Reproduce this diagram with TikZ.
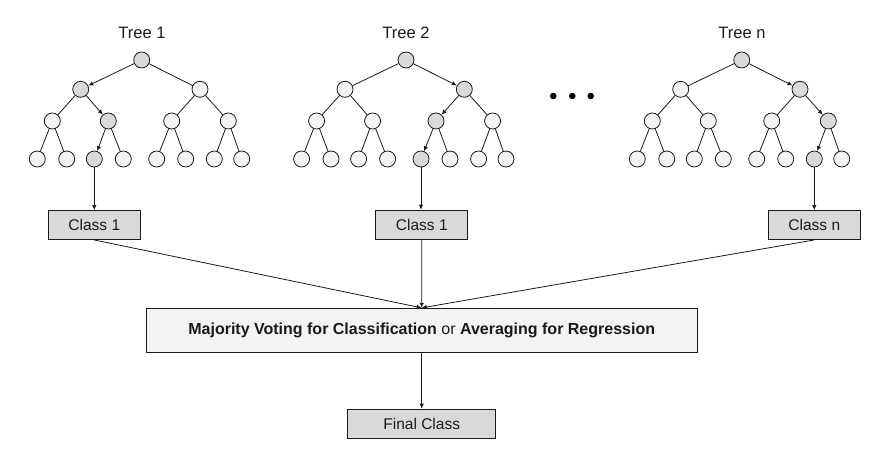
\documentclass[tikz,border=0pt]{standalone}
\usepackage{fontspec}
\setmainfont{Liberation Sans}
\usetikzlibrary{arrows.meta}
\definecolor{lightfill}{HTML}{F3F3F3}
\definecolor{darkfill}{HTML}{D9D9D9}
\definecolor{linec}{HTML}{1A1A1A}
\begin{document}
\begin{tikzpicture}[x=1pt,y=-1pt,
  tnode/.style={circle,draw=linec,line width=0.8pt,minimum size=16pt,inner sep=0pt,fill=lightfill},
  hnode/.style={tnode,fill=darkfill},
  edge/.style={draw=linec,line width=0.8pt},
  arr/.style={edge,-{Latex[length=5pt,width=4.5pt]}},
  classbox/.style={draw=linec,line width=0.9pt,fill=darkfill,minimum width=92pt,minimum height=29pt,inner sep=0pt,font=\fontsize{15.5}{18}\selectfont,text=linec},
  bigbox/.style={draw=linec,line width=0.9pt,fill=lightfill,minimum width=551pt,minimum height=44pt,inner sep=0pt,font=\fontsize{16}{18}\selectfont,text=linec},
  title/.style={font=\fontsize{16.5}{19}\selectfont,text=linec,inner sep=0pt},
  dotmark/.style={circle,fill=black,minimum size=6.6pt,inner sep=0pt}
]
\useasboundingbox (0,0) rectangle (883,457);
\foreach \t/\ox/\pa/\pb/\pc in {1/0/2/5/10, 2/264.3/3/6/12, 3/600/3/7/14}{
  \foreach \i/\x/\y in {1/141.7/60, 2/80.7/89.3, 3/200/89.3, 4/52.3/121, 5/108.3/121, 6/171.7/121, 7/228.3/121, 8/37.3/159, 9/66.7/159, 10/94.3/159, 11/123.3/159, 12/156.7/159, 13/185.7/159, 14/214.3/159, 15/241.7/159}{
    \pgfmathtruncatemacro{\hl}{(\i==1)||(\i==\pa)||(\i==\pb)||(\i==\pc)}
    \ifnum\hl=1 \node[hnode] (t\t n\i) at (\x+\ox,\y) {};
    \else \node[tnode] (t\t n\i) at (\x+\ox,\y) {}; \fi
  }
  \foreach \c in {2,...,15}{
    \pgfmathtruncatemacro{\p}{floor(\c/2)}
    \pgfmathtruncatemacro{\hl}{(\c==\pa)||(\c==\pb)||(\c==\pc)}
    \ifnum\hl=1 \draw[arr] (t\t n\p) -- (t\t n\c);
    \else \draw[edge] (t\t n\p) -- (t\t n\c); \fi
  }
}
\node[title] (h1) at (142,33) {Tree 1};
\node[title] (h2) at (406,33) {Tree 2};
\node[title] (h3) at (742,33) {Tree n};
\node[dotmark] (d1) at (553.3,96) {};
\node[dotmark] (d2) at (572.3,96) {};
\node[dotmark] (d3) at (590.7,96) {};
\node[classbox] (c1) at (94.3,225) {Class 1};
\node[classbox] (c2) at (421.8,224.7) {Class 1};
\node[classbox] (c3) at (814.3,225) {Class n};
\draw[arr] (t1n10) -- (t1n10 |- c1.north);
\draw[arr] (t2n12) -- (t2n12 |- c2.north);
\draw[arr] (t3n14) -- (t3n14 |- c3.north);
\node[bigbox] (maj) at (421.7,330.3) {\textbf{Majority Voting for Classification} or \textbf{Averaging for Regression}};
\draw[arr] (c1.south) -- (maj.north);
\draw[arr] (c2.south) -- (maj.north);
\draw[arr] (c3.south) -- (maj.north);
\node[classbox,minimum width=148pt,minimum height=29.3pt] (fin) at (421.7,423.7) {Final Class};
\draw[arr] (maj.south) -- (fin.north);
\end{tikzpicture}
\end{document}
